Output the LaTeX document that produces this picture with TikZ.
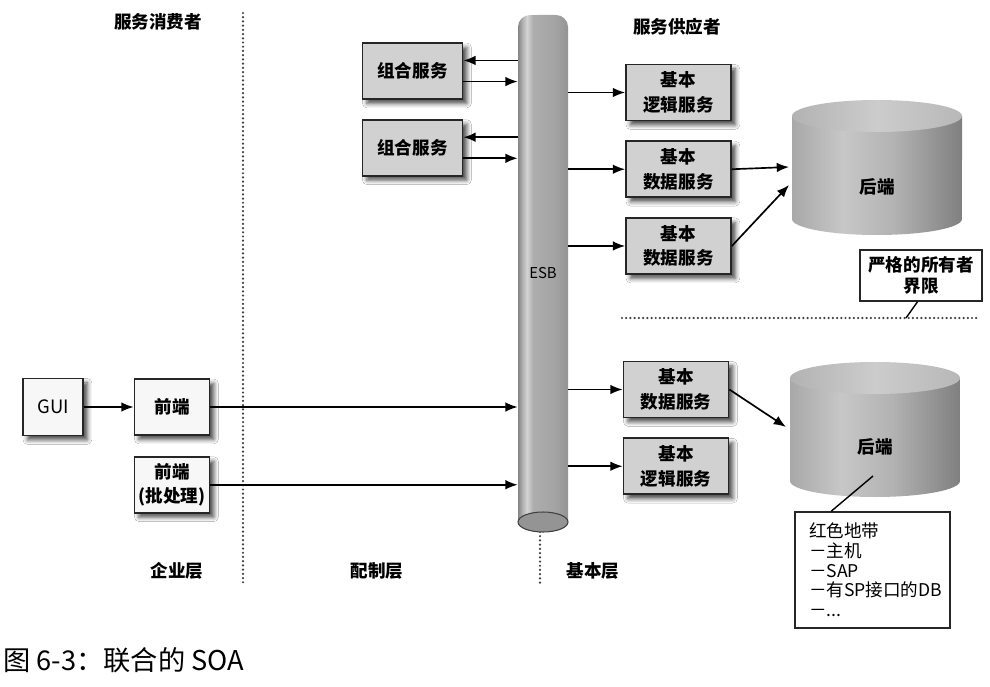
\documentclass[tikz,border=0pt]{standalone}
\usepackage{fontspec}
\setmainfont{Noto Sans CJK SC}
\usepackage{tikz}
\usetikzlibrary{arrows.meta,positioning,shadows.blur,calc}

\pgfdeclarehorizontalshading{esbshade}{100bp}{color(0bp)=(black!48); color(25bp)=(black!48); color(29bp)=(black!32); color(34bp)=(black!17); color(40bp)=(black!32); color(62bp)=(black!36); color(75bp)=(black!42); color(100bp)=(black!42)}
\pgfdeclarehorizontalshading{dbbody}{100bp}{color(0bp)=(black!34); color(25bp)=(black!34); color(40bp)=(black!22); color(55bp)=(black!30); color(75bp)=(black!50); color(100bp)=(black!50)}
\pgfdeclarehorizontalshading{dbtop}{100bp}{color(0bp)=(black!30); color(25bp)=(black!30); color(50bp)=(black!20); color(75bp)=(black!28); color(100bp)=(black!28)}

\begin{document}
\begin{tikzpicture}[
  x=0.02cm,y=-0.02cm,
  node distance=0.38cm,
  svcbox/.style={draw=black!85,line width=1pt,fill=black!18,align=center,inner sep=1pt,
    font=\fontsize{10}{14}\selectfont\bfseries,minimum width=2.1cm,minimum height=1.12cm,
    blur shadow={shadow xshift=2.5pt,shadow yshift=-2.5pt,shadow blur radius=2.5pt,shadow opacity=70}},
  compbox/.style={svcbox,minimum width=2cm},
  febox/.style={svcbox,fill=black!3,minimum width=1.5cm},
  notebox/.style={draw=black!85,line width=0.9pt,fill=white},
  headtxt/.style={font=\fontsize{10}{12}\selectfont\bfseries},
  arrow/.style={-{Latex[length=7pt,width=5.5pt]},line width=0.95pt},
  dotline/.style={line width=1.4pt,black!75,dash pattern=on 0pt off 2.4pt,line cap=round}
]
\fill[white] (0,0) rectangle (990,686);

% dotted borders
\draw[dotline] (243,13) -- (243,585);
\draw[dotline] (540,532) -- (540,585);
\draw[dotline] (622,318) -- (980,318);

% ESB bus
\shade[shading=esbshade] (518,522) -- (518,27) arc[start angle=180,end angle=90,radius=0.24cm]
  -- (556,15) arc[start angle=90,end angle=0,radius=0.24cm]
  -- (568,522) arc[start angle=0,end angle=-180,x radius=0.5cm,y radius=0.2cm] -- cycle;
\filldraw[fill=black!42,draw=black!75,line width=0.6pt] (543,522) ellipse[x radius=0.5cm,y radius=0.2cm];
\node[inner sep=0,minimum width=1cm,minimum height=10.34cm,font=\fontsize{8.5}{10}\selectfont] (esb) at (543,273.5) {ESB};

% backends
\foreach \cx/\ty/\nm/\ly in {877/116/be1/187,875/378/be2/447} {
  \shade[shading=dbbody] (\cx-85,\ty) -- (\cx-85,\ty+103)
    arc[start angle=180,end angle=360,x radius=1.7cm,y radius=0.32cm] -- (\cx+85,\ty) -- cycle;
  \shade[shading=dbtop] (\cx,\ty) ellipse[x radius=1.7cm,y radius=0.32cm];
  \node[headtxt] (\nm) at (\cx,\ly) {后端};
}
\coordinate (be1w) at (789,167);
\coordinate (be1sw) at (789,185);
\coordinate (be2w) at (786,427);
\coordinate (be2tip) at (873,476);
\coordinate (owner) at (906,318);

% headings
\node[headtxt] (consumer) at (158,22) {服务消费者};
\node[headtxt] (provider) at (677,27) {服务供应者};
\node[headtxt] (entl) at (177,571) {企业层};
\node[headtxt] (orchl) at (377,571) {配制层};
\node[headtxt] (basel) at (593,571) {基本层};

% consumers
\node[febox,minimum width=1.2cm,minimum height=1.14cm,font=\fontsize{10.5}{12}\selectfont] (gui) at (53,407) {GUI};
\node[febox] (fe) at (172,407) {前端};
\node[febox,below=0.4cm of fe] (batch) {前端\\(批处理)};

% composite services
\node[compbox] (comp1) at (412.5,71) {组合服务};
\node[compbox,below=of comp1] (comp2) {组合服务};

% basic services
\node[svcbox] (blog1) at (678.5,92.5) {基本\\逻辑服务};
\node[svcbox,below=of blog1] (bdat1) {基本\\数据服务};
\node[svcbox,below=of bdat1] (bdat2) {基本\\数据服务};
\node[svcbox] (bdat3) at (676,389.5) {基本\\数据服务};
\node[svcbox,below=of bdat3] (blog2) {基本\\逻辑服务};

% notes
\node[notebox,headtxt,align=center,minimum width=2.44cm,minimum height=1.02cm,inner sep=1pt] (bound) at (921,275.5) {严格的所有者\\界限};
\node[notebox,align=left,text width=2.54cm,inner xsep=0.28cm,inner ysep=4pt,minimum height=2.32cm,
  font=\fontsize{10}{11.2}\selectfont] (redtape) at (872.5,570) {红色地带\\－主机\\－SAP\\－有SP接口的DB\\－...};

\node[anchor=west,inner sep=0,font=\fontsize{15.5}{18}\selectfont] (caption) at (3,660) {图 6-3：联合的 SOA};

% connectors
\draw[arrow] (gui) -- (fe);
\foreach \n in {fe,batch}
  \draw[arrow] (\n.east) -- (\n.east -| esb.west);
\foreach \n in {comp1,comp2} {
  \coordinate (\n-in) at ([yshift=6pt]\n.east);
  \coordinate (\n-out) at ([yshift=-6pt]\n.east);
  \draw[arrow] (\n-in -| esb.west) -- (\n-in);
  \draw[arrow] (\n-out) -- (\n-out -| esb.west);
}
\foreach \n in {blog1,bdat1,bdat2,bdat3,blog2}
  \draw[arrow] (esb.east |- \n.west) -- (\n.west);
\draw[arrow] (bdat1.east) -- (be1w);
\draw[arrow] (bdat2.east) -- (be1sw);
\draw[arrow] (bdat3.east) -- (be2w);
\draw[line width=0.8pt] ([xshift=-2pt]bound.south) -- (owner);
\draw[line width=0.8pt] (be2tip) -- ($(redtape.north west)+(37,0)$);
\end{tikzpicture}
\end{document}
